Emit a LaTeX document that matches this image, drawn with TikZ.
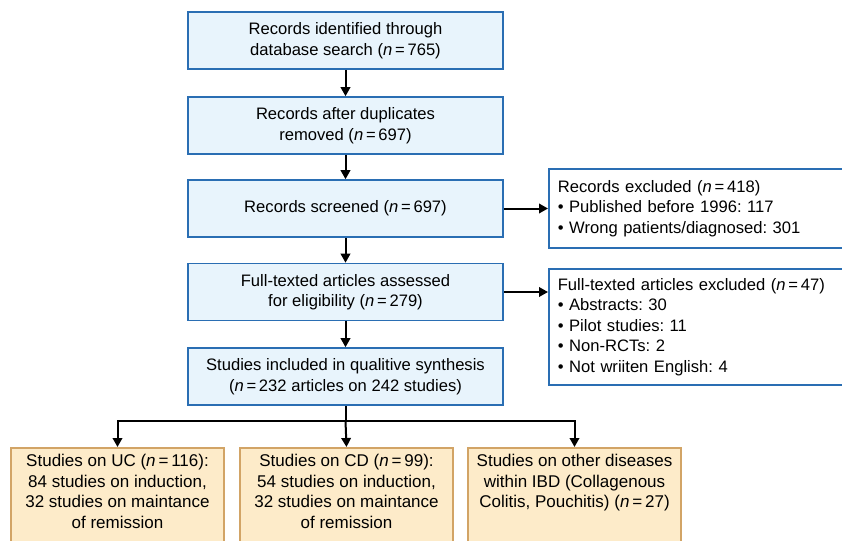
\documentclass[tikz,border=0pt]{standalone}
\usepackage{fontspec}
\setmainfont{Liberation Sans}
\usetikzlibrary{arrows.meta,positioning}
\definecolor{bluefill}{HTML}{E8F4FC}
\definecolor{blueline}{HTML}{2A6EB3}
\definecolor{orfill}{HTML}{FDEBC9}
\definecolor{orline}{HTML}{D2A466}
\newcommand{\nn}{\textit{n}\,=\,}
\frenchspacing
\begin{document}
\begin{tikzpicture}[x=1pt,y=-1pt,
  font=\fontsize{16.6}{20.5}\selectfont\frenchspacing,
  mainbox/.style={draw=blueline,fill=bluefill,line width=1.6pt,minimum width=315pt,minimum height=57pt,align=center,inner sep=0pt},
  sidebox/.style={draw=blueline,fill=white,line width=1.6pt,anchor=west,minimum width=310pt,text width=292pt,align=left,inner xsep=9pt,inner ysep=0pt},
  subbox/.style={draw=orline,fill=orfill,line width=1.6pt,anchor=north,minimum width=213pt,minimum height=110pt,inner sep=0pt},
  subtext/.style={anchor=north,align=center,inner sep=0pt,font=\fontsize{17}{20.5}\selectfont\frenchspacing},
  arr/.style={-{Triangle[width=9.5pt,length=9pt]},line width=2pt,black}]
\useasboundingbox (0,0) rectangle (842,540);

\node[mainbox] (b1) at (345.5,40.5) {Records identified through\\database search (\nn765)};
\node[mainbox] (b2) at (345.5,125.5) {Records after duplicates\\removed (\nn697)};
\node[mainbox] (b3) at (345.5,208.5) {Records screened (\nn697)};
\node[mainbox] (b4) at (345.5,292) {Full-texted articles assessed\\for eligibility (\nn279)};
\node[mainbox] (b5) at (345.5,376.5) {Studies included in qualitive synthesis\\(\nn232 articles on 242 studies)};

\node[sidebox,minimum height=79pt] (r1) at (548,208.5) {Records excluded (\nn418)\\\textbullet\ Published before 1996: 117\\\textbullet\ Wrong patients/diagnosed: 301};
\node[sidebox,minimum height=116pt] (r2) at (548,327) {Full-texted articles excluded (\nn47)\\\textbullet\ Abstracts: 30\\\textbullet\ Pilot studies: 11\\\textbullet\ Non-RCTs: 2\\\textbullet\ Not wriiten English: 4};

\node[subbox] (uc) at (117.5,447) {};
\node[subbox] (cd) at (346.5,447) {};
\node[subbox] (ot) at (574.5,447) {};
\node[subtext] (uct) at ([yshift=-7pt]uc.north) {Studies on UC (\nn116):\\84 studies on induction,\\32 studies on maintance\\of remission};
\node[subtext] (cdt) at ([yshift=-7pt]cd.north) {Studies on CD (\nn99):\\54 studies on induction,\\32 studies on maintance\\of remission};
\node[subtext] (ott) at ([yshift=-7pt]ot.north) {Studies on other diseases\\within IBD (Collagenous\\Colitis, Pouchitis) (\nn27)};

\draw[arr] (b1) -- (b2);
\draw[arr] (b2) -- (b3);
\draw[arr] (b3) -- (b4);
\draw[arr] (b4) -- (b5);
\draw[arr] (b3.east) -- (b3.east -| r1.west);
\draw[arr] (b4.east) -- (b4.east -| r2.west);
\coordinate (j) at (b5.south |- 0,421);
\draw[line width=2pt] (b5.south) -- (j);
\draw[arr] (j) -- (cd.north);
\draw[arr,rounded corners=0pt] (j) -| (uc.north);
\draw[arr] (j) -| (ot.north);
\end{tikzpicture}
\end{document}
